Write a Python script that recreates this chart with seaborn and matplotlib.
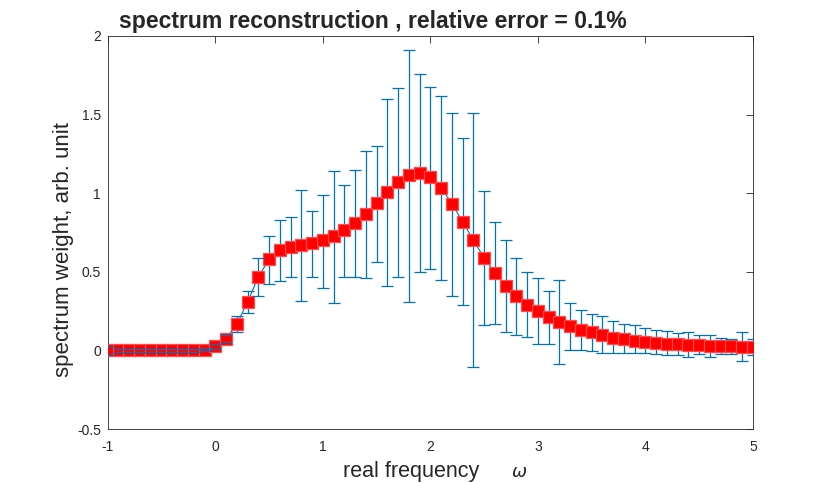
import numpy as np
import pandas as pd
import matplotlib
matplotlib.use("Agg")
import matplotlib.pyplot as plt
import seaborn as sns

# real frequency grid (step 0.1 from -1 to 5)
omega = [round(-1 + 0.1 * i, 1) for i in range(61)]

# reconstructed spectrum (red squares)
spectrum = [
    0.0, 0.0, 0.0, 0.0, 0.0, 0.0, 0.0, 0.0, 0.0, 0.005,
    0.025, 0.074, 0.17, 0.31, 0.47, 0.58, 0.636, 0.657, 0.67, 0.683,
    0.70, 0.725, 0.763, 0.81, 0.867, 0.937, 1.007, 1.071, 1.113, 1.128,
    1.10, 1.033, 0.933, 0.818, 0.70, 0.587, 0.492, 0.411, 0.343, 0.29,
    0.248, 0.21, 0.178, 0.153, 0.131, 0.115, 0.095, 0.081, 0.07, 0.061,
    0.053, 0.047, 0.042, 0.038, 0.034, 0.032, 0.03, 0.028, 0.025, 0.023,
    0.023,
]

# error bar upper / lower ends
err_top = [
    0.028, 0.01, 0.01, 0.01, 0.01, 0.01, 0.01, 0.01, 0.01, 0.017,
    0.041, 0.096, 0.216, 0.38, 0.585, 0.73, 0.83, 0.85, 1.018, 0.888,
    0.99, 1.14, 1.05, 1.15, 1.266, 1.30, 1.60, 1.67, 1.913, 1.756,
    1.673, 1.62, 1.51, 1.353, 1.508, 1.014, 0.816, 0.704, 0.59, 0.496,
    0.458, 0.38, 0.45, 0.30, 0.259, 0.233, 0.22, 0.19, 0.17, 0.159,
    0.14, 0.13, 0.123, 0.108, 0.119, 0.095, 0.10, 0.078, 0.074, 0.114,
    0.074,
]
err_bot = [
    -0.028, -0.01, -0.01, -0.01, -0.01, -0.01, -0.01, -0.01, -0.01, -0.007,
    0.009, 0.052, 0.12, 0.24, 0.343, 0.424, 0.44, 0.466, 0.316, 0.47,
    0.40, 0.30, 0.47, 0.464, 0.46, 0.56, 0.41, 0.47, 0.305, 0.50,
    0.52, 0.45, 0.348, 0.286, -0.108, 0.163, 0.168, 0.119, 0.10, 0.085,
    0.038, 0.038, -0.087, 0.0, 0.004, -0.002, -0.017, -0.017, -0.017, -0.017,
    -0.017, -0.023, -0.028, -0.028, -0.045, -0.023, -0.04, -0.02, -0.02, -0.066,
    -0.03,
]

x_ticks = [-1, 0, 1, 2, 3, 4, 5]
y_ticks = [-0.5, 0, 0.5, 1, 1.5, 2]
y_tick_labels = ["-0.5", "0", "0.5", "1", "1.5", "2"]

df = pd.DataFrame({"omega": omega, "spectrum": spectrum,
                   "top": err_top, "bot": err_bot})

sns.set_style("white")
plt.rcParams["font.family"] = ["Liberation Sans", "DejaVu Sans"]

fig = plt.figure(figsize=(8.3, 4.83), dpi=100)
ax = fig.add_axes([0.1301, 0.1118, 0.7771, 0.8137])

blue = "#0072BD"
yerr = np.vstack([df["spectrum"] - df["bot"], df["top"] - df["spectrum"]])
line, caps, bars = ax.errorbar(df["omega"], df["spectrum"], yerr=yerr,
                               color=blue, lw=0.8, elinewidth=0.9,
                               capsize=4.3, capthick=0.9, zorder=2)
# caps end up drawn over the markers, like the original
for c in caps:
    c.set_zorder(4)

sns.lineplot(data=df, x="omega", y="spectrum", ax=ax, marker="s",
             markersize=8, color="red", markeredgecolor="#ff4d4d",
             markeredgewidth=0.9, linestyle="none", zorder=3)

ax.set_xlim(-1, 5)
ax.set_ylim(-0.5, 2)
ax.set_xticks(x_ticks)
ax.set_xticklabels([str(t) for t in x_ticks])
ax.set_yticks(y_ticks)
ax.set_yticklabels(y_tick_labels)
ax.tick_params(direction="in", length=5, width=0.6, labelsize=10,
               top=True, right=True, colors="#262626")
ax.tick_params(axis="x", pad=8)
ax.tick_params(axis="y", pad=5)
for s in ax.spines.values():
    s.set_color("#262626")
    s.set_linewidth(0.6)

ax.set_xlabel("real frequency", fontsize=15.5)
ax.xaxis.set_label_coords((411 - 108) / 645, -48 / 393, transform=ax.transAxes)
ax.xaxis.label.set_va("baseline")
ax.set_ylabel("spectrum weight, arb. unit", fontsize=16)
ax.yaxis.set_label_coords((69 - 108) / 645, (429 - 250) / 393, transform=ax.transAxes)
ax.yaxis.label.set_va("baseline")
fig.text(519 / 830, 1 - 477 / 483, "$\\omega$", fontsize=13,
         ha="center", va="baseline")
fig.text(119 / 830, 1 - 28 / 483, "spectrum reconstruction , relative error = 0.1%",
         fontsize=16.6, fontweight="bold", ha="left", va="baseline")

fig.savefig("out.png", dpi=100)
